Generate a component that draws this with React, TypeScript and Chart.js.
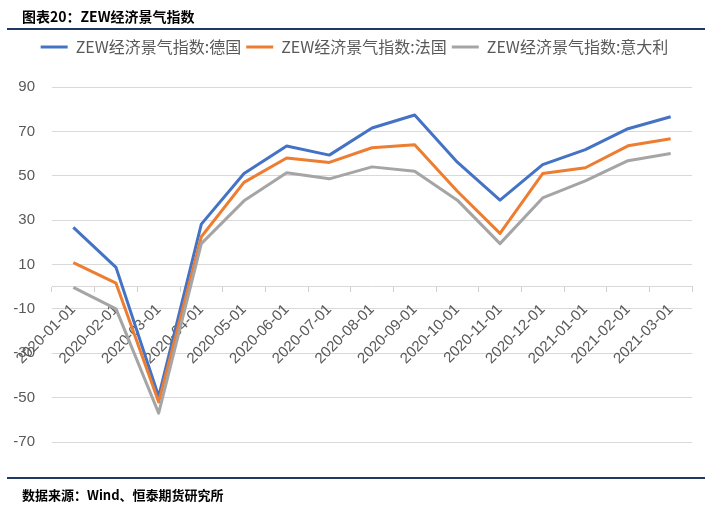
import React, { useEffect, useRef } from "react";
import { Chart, registerables } from "chart.js";

Chart.register(...registerables);

const categories = [
  "2020-01-01", "2020-02-01", "2020-03-01", "2020-04-01", "2020-05-01",
  "2020-06-01", "2020-07-01", "2020-08-01", "2020-09-01", "2020-10-01",
  "2020-11-01", "2020-12-01", "2021-01-01", "2021-02-01", "2021-03-01",
];
const germany = [26.7, 8.7, -49.5, 28.2, 51.0, 63.4, 59.3, 71.5, 77.4, 56.1, 39.0, 55.0, 61.8, 71.2, 76.6];
const france = [10.8, 1.6, -52.0, 22.5, 47.0, 58.0, 56.0, 62.6, 64.0, 43.0, 24.0, 51.0, 53.6, 63.5, 66.7];
const italy = [-0.3, -10.0, -57.0, 19.4, 38.7, 51.4, 48.6, 54.0, 52.0, 39.0, 19.4, 40.0, 47.7, 56.8, 60.0];

const seriesNames = ["ZEW经济景气指数:德国", "ZEW经济景气指数:法国", "ZEW经济景气指数:意大利"];
const seriesColors = ["#4472C4", "#ED7D31", "#A5A5A5"];
const yMin = -70;
const yMax = 90;
const yStep = 20;

const legendSpacer = {
  id: "legendSpacer",
  beforeInit(chart: any) {
    const legend = chart.legend;
    if (!legend) return;
    const orig = legend.fit;
    legend.fit = function () {
      orig.call(this);
      this.height += 22;
    };
  },
  afterLayout(chart: any) {
    if (chart.legend) chart.legend.left += 17;
  },
};

export default function App() {
  const ref = useRef<HTMLCanvasElement | null>(null);

  useEffect(() => {
    if (!ref.current) return;
    const values = [germany, france, italy];
    const chart = new Chart(ref.current, {
      type: "line",
      data: {
        labels: categories,
        datasets: values.map((d, i) => ({
          label: seriesNames[i],
          data: d,
          borderColor: seriesColors[i],
          backgroundColor: seriesColors[i],
          borderWidth: 3,
          pointRadius: 0,
          tension: 0,
          borderJoinStyle: "round" as const,
          order: 3 - i,
        })),
      },
      options: {
        animation: false,
        responsive: false,
        maintainAspectRatio: false,
        layout: { padding: { top: 34, bottom: 65, left: 0, right: 17 } },
        plugins: {
          legend: {
            position: "top",
            labels: {
              boxWidth: 27,
              boxHeight: 3,
              padding: 5,
              color: "#595959",
              font: { size: 16, family: "'Noto Sans CJK SC', sans-serif" },
              sort: (a: any, b: any) => a.datasetIndex - b.datasetIndex,
              generateLabels: (c: any) =>
                (Chart.defaults.plugins.legend.labels.generateLabels as any)(c).map((l: any) => ({
                  ...l,
                  lineWidth: 0,
                  fillStyle: seriesColors[l.datasetIndex],
                })),
            },
          },
          tooltip: { enabled: false },
          title: { display: false },
        },
        scales: {
          x: {
            type: "category",
            position: { y: 0 } as any,
            offset: true,
            grid: {
              offset: true,
              drawOnChartArea: false,
              drawTicks: true,
              tickLength: 5,
              color: "#D0D0D0",
            },
            border: { display: true, color: "#D9D9D9", width: 1 },
            ticks: {
              autoSkip: false,
              maxRotation: 45,
              minRotation: 45,
              padding: 9,
              color: "#595959",
              font: { size: 15, family: "'Liberation Sans', Arial, sans-serif" },
            },
            afterFit: (s: any) => {
              s.paddingLeft = 0;
              s.paddingRight = 0;
            },
          },
          y: {
            min: yMin,
            max: yMax,
            grid: { color: "#D9D9D9", drawTicks: false },
            border: { display: false },
            ticks: {
              stepSize: yStep,
              padding: 17,
              color: "#595959",
              font: { size: 15, family: "'Liberation Sans', Arial, sans-serif" },
            },
            afterFit: (s: any) => {
              s.width = 52;
            },
          },
        },
      },
      plugins: [legendSpacer],
    });
    return () => chart.destroy();
  }, []);

  const lineStyle: React.CSSProperties = {
    position: "absolute",
    left: 7,
    width: 698,
    height: 2,
    background: "#1F3864",
  };
  const boldText: React.CSSProperties = {
    position: "absolute",
    left: 22,
    fontFamily: "'Noto Sans CJK SC', sans-serif",
    fontWeight: 700,
    color: "#000",
    whiteSpace: "nowrap",
  };

  return (
    <div style={{ position: "absolute", left: 0, top: 0, width: 709, height: 507, background: "#fff" }}>
      <canvas ref={ref} width={709} height={507} style={{ position: "absolute", left: 0, top: 0, width: 709, height: 507 }} />
      <div style={{ ...boldText, top: 6, fontSize: 14, lineHeight: "20px" }}>图表20：ZEW经济景气指数</div>
      <div style={{ ...lineStyle, top: 28 }} />
      <div style={{ ...lineStyle, top: 477 }} />
      <div style={{ ...boldText, top: 485, fontSize: 13, lineHeight: "20px" }}>数据来源：Wind、恒泰期货研究所</div>
    </div>
  );
}
